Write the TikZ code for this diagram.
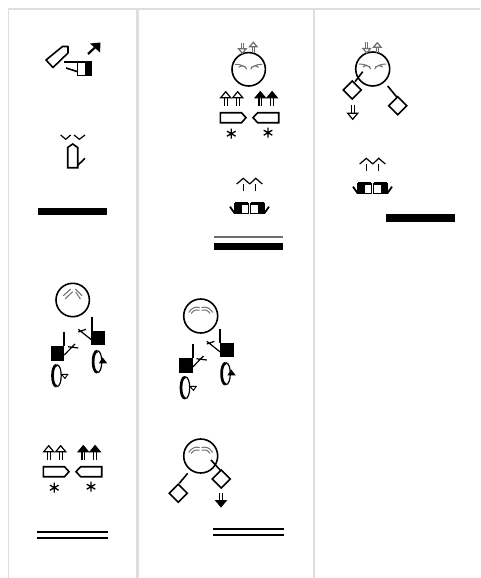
\documentclass[tikz,border=0pt]{standalone}
\usetikzlibrary{calc}

\def\lineWidth{1.6pt}
\definecolor{frameGray}{RGB}{222,222,222}
\definecolor{browGray}{RGB}{110,110,110}

\tikzset{
  x=1pt, y=-1pt,
  symLine/.style={line width=\lineWidth, line join=miter},
  thinLine/.style={line width=1.2pt},
  browLine/.style={line width=1pt, browGray},
  frameLine/.style={frameGray, line width=#1},
  doubleRule/.style={line width=1.9pt},
  % arrow with its tip at the origin
  pics/arrowsym/.style={code={
    \draw[thinLine,fill=#1] (-5,6) -- (0,0) -- (5,6) -- cycle;
    \draw[thinLine] (-1.4,6) -- (-1.4,14) (1.4,6) -- (1.4,14);
  }},
  pics/starsym/.style={code={
    \draw[line width=1.3pt] (0,-5) -- (0,5) (-4.3,-2.5) -- (4.3,2.5) (-4.3,2.5) -- (4.3,-2.5);
  }},
  pics/turnsym/.style={code={
    \draw[line width=2.7pt] (0,-10.6) .. controls (-5.6,-10.6) and (-5.6,10.6) .. (0,10.6);
    \draw[thinLine] (0,-11) .. controls (6,-11) and (6,11) .. (0,11);
  }},
  pics/diamondsym/.style={code={
    \draw[symLine,fill=white] (0,-9) -- (9,0) -- (0,9) -- (-9,0) -- cycle;
  }},
  % both hands with their turning marks, origin at top left of the lower square
  pics/handpair/.style={code={
    \fill (0,0) rectangle (13.5,14.4);
    \draw[symLine] (13.5,-14.6) -- (13.5,0);
    \draw[thinLine] (13.5,8.7) -- (24.3,-2.3) (17.3,0.4) -- (27.6,1.7);
    \fill (40.3,-15.3) rectangle (54.6,-1);
    \draw[symLine] (41,-29.6) -- (41,-15.3);
    \draw[thinLine] (27.6,-17) -- (41,-6.3) (27.6,-14.3) -- (35.3,-17);
    \pic at (6,29.4) {turnsym};
    \draw[line width=0.9pt,fill=white] (10.8,28.1) -- (17,28.1) -- (14.3,32.1) -- cycle;
    \pic at (46.6,15.4) {turnsym};
    \fill (48.1,17.1) -- (56.6,17.1) -- (51.9,11.1) -- cycle;
  }},
  % arrows, pointing hands and stars, origin at the first arrow tip
  pics/armset/.style={code={
    \pic at (0,0) {arrowsym=white};
    \pic at (12,0) {arrowsym=white};
    \pic at (34.6,0) {arrowsym=black};
    \pic at (46.4,0) {arrowsym=black};
    \draw[symLine] (-5.4,21) -- (15.8,21) -- (20.3,26) -- (15.8,31) -- (-5.4,31) -- cycle;
    \draw[symLine] (53,21) -- (32,21) -- (27.3,26) -- (32,31) -- (53,31) -- cycle;
    \pic at (5.6,42) {starsym};
    \pic at (42.3,41) {starsym};
  }},
  % two arrows over the two boxes, origin between the arrows
  pics/boxpair/.style={code={
    \draw[thinLine] (-12.8,5.7) -- (-6.2,0) -- (0.3,5.7) (0.3,5.7) -- (6.2,0) -- (12.8,5.7);
    \draw[thinLine] (-6.2,6) -- (-6.2,12.4) (6.2,6) -- (6.2,12.4);
    \foreach \side in {-1,1} {
      \begin{scope}[xscale=\side]
        \draw[thinLine] (1.2,25) rectangle (14.5,35.5);
        \fill (1.2,23.4) rectangle (14.5,26.2);
        \fill (8,27) rectangle (14.5,35.9);
        \draw[line width=1.8pt] (19.5,28.4) -- (14.8,35);
      \end{scope}
    }
  }},
  pics/browsStraight/.style={code={
    \draw[browLine] (-9.4,-4.3) -- (-2,-11) (-7.7,-1) -- (0,-8.3)
      (9.4,-4.3) -- (2.6,-11) (7.7,-1) -- (3,-8);
  }},
  pics/browsWave/.style={code={
    \foreach \side in {-1,1} {
      \draw[browLine,xscale=\side] (2,0) .. controls (3,-3) and (8,-5) .. (13.5,-5)
        (2.4,-2) .. controls (4,-3.5) and (7,-4) .. (10,-2);
    }
  }},
  pics/browsArc/.style={code={
    \foreach \side in {-1,1} {
      \draw[browLine,xscale=\side] (1,-8.5) .. controls (5,-9.5) and (9,-8.5) .. (12,-3.5)
        (1,-6) .. controls (4,-7) and (7,-6) .. (9.5,-2.5);
    }
  }},
}

\begin{document}
\begin{tikzpicture}

\useasboundingbox (0,0) rectangle (480,578);

\coordinate (head-a) at (72.7,300);
\coordinate (head-b) at (248.7,69.3);
\coordinate (head-c) at (200.7,316);
\coordinate (head-d) at (200.7,456);
\coordinate (head-e) at (372.7,69);

\coordinate (hands-a) at (50.7,346.3);
\coordinate (hands-b) at ($(hands-a) + (128.5,12)$);
\coordinate (arms-a) at (48.7,445.7);
\coordinate (arms-b) at (225.7,91.7);
\coordinate (boxes-a) at (249.5,178.3);
\coordinate (boxes-b) at (372.5,158.3);

%FRAME

\draw[frameLine=2.4pt] (8,9) -- (480,9);
\draw[frameLine=1.6pt] (8.6,9) -- (8.6,578);
\draw[frameLine=3.2pt] (137.6,9) -- (137.6,578);
\draw[frameLine=2pt] (313.6,9) -- (313.6,578);

%FIRST COLUMN

\draw[symLine,line join=round] (46,60) -- (62.5,46.5) -- (68,46.5) -- (68,53) -- (53,67.5) -- cycle;
\draw[line width=2.2pt] (88,54) -- (95,47.5);
\fill (100.5,42.5) -- (90,43.5) -- (100,52.5) -- cycle;
\draw[symLine] (64,62) -- (77.5,62);
\draw[symLine] (77.5,62) rectangle (91,75.5);
\fill (84.5,61.2) rectangle (91.8,76.3);
\draw[symLine] (66,68) -- (77,71.5);

\draw[thinLine] (60.7,135) -- (65.7,139.3) -- (70.7,135) (74,135) -- (79.3,139.3) -- (85,135);
\draw[symLine] (67.7,147.5) -- (72.7,144) -- (77.7,147.5) -- (77.7,167.7) -- (67.7,167.7) -- cycle;
\draw[symLine] (77.3,165.7) -- (85,158.3);

\fill (38.3,207.7) rectangle (107.3,215);

\draw[symLine] (head-a) circle (16.7pt);
\pic at (head-a) {browsStraight};
\pic at (hands-a) {handpair};
\pic at (arms-a) {armset};

\draw[doubleRule] (37.3,532.3) -- (108.3,532.3) (37.3,538.3) -- (108.3,538.3);

%SECOND COLUMN

\draw[symLine] (head-b) circle (16.7pt);
\pic at (head-b) {browsWave};
\pic[browGray,xscale=.75,yscale=-.75] at (242.3,53.3) {arrowsym=none};
\pic[browGray,scale=.75] at (253.3,42.3) {arrowsym=none};
\pic at (arms-b) {armset};

\pic at (boxes-a) {boxpair};

\draw[line width=1.6pt,browGray] (214,237) -- (283.3,237);
\fill (214,242.7) rectangle (283.3,250);

\draw[symLine] (head-c) circle (17pt);
\pic at (head-c) {browsArc};
\pic at (hands-b) {handpair};

\draw[symLine] (head-d) circle (17pt);
\pic at (head-d) {browsArc};
\draw[symLine] (211,460) -- (220.7,470.7);
\pic at (221.3,479) {diamondsym};
\draw[symLine] (187.7,473.3) -- (179.3,483.3);
\pic at (178.3,493.3) {diamondsym};
\pic[yscale=-1] at (221,506.7) {arrowsym=black};

\draw[doubleRule] (213.3,528.7) -- (284.3,528.7) (213.3,535) -- (284.3,535);

%THIRD COLUMN

\draw[symLine] (head-e) circle (17pt);
\pic at (head-e) {browsWave};
\pic[browGray,xscale=.75,yscale=-.75] at (366.7,53) {arrowsym=none};
\pic[browGray,scale=.75] at (377.3,42.7) {arrowsym=none};
\draw[symLine] (362.7,71.7) -- (355,81.7);
\pic at (352.3,90) {diamondsym};
\draw[symLine] (387.7,86) -- (397.3,97.7);
\pic at (397.7,105.7) {diamondsym};
\pic[yscale=-1] at (352.7,119.3) {arrowsym=white};

\pic at (boxes-b) {boxpair};

\fill (386,214.3) rectangle (455,222.3);

\end{tikzpicture}
\end{document}
